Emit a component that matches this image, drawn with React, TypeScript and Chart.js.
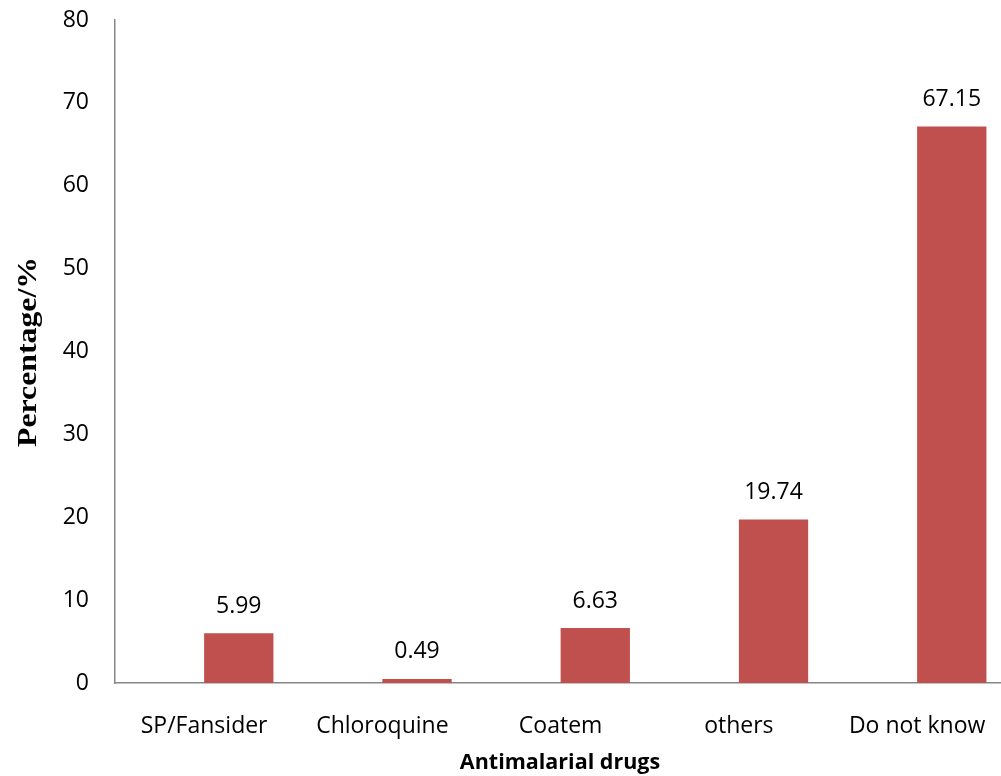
import React, { useEffect, useRef } from "react";
import { Chart, registerables } from "chart.js";

Chart.register(...registerables);

const categories = ["SP/Fansider", "Chloroquine", "Coatem", "others", "Do not know"];
const spacerValues: (number | null)[] = [null, null, null, null, null];
const percentValues = [5.99, 0.49, 6.63, 19.74, 67.15];
const valueLabels = ["5.99", "0.49", "6.63", "19.74", "67.15"];
const yTickMin = 0;
const yTickMax = 80;
const yTickStep = 10;
const xTitle = "Antimalarial drugs";
const yTitle = "Percentage/%";

const CANVAS_W = 1010;
const CANVAS_H = 776;

const labelsPlugin = {
  id: "customLabels",
  afterDatasetsDraw(chart: any) {
    const ctx = chart.ctx;
    const meta = chart.getDatasetMeta(1);
    ctx.save();
    ctx.font = '23px "Open Sans"';
    ctx.fillStyle = "#000";
    ctx.textAlign = "center";
    ctx.textBaseline = "middle";
    meta.data.forEach((bar: any, i: number) => {
      ctx.fillText(valueLabels[i], bar.x, bar.y - 27);
    });
    ctx.restore();
  },
  afterDraw(chart: any) {
    const ctx = chart.ctx;
    ctx.save();
    ctx.fillStyle = "#000";
    ctx.textAlign = "center";
    ctx.textBaseline = "middle";
    ctx.font = 'bold 21.5px "Open Sans"';
    ctx.fillText(xTitle, 560, 763);
    ctx.translate(29, 352);
    ctx.rotate(-Math.PI / 2);
    ctx.font = 'bold 27px "Liberation Serif"';
    const w = ctx.measureText(yTitle).width;
    ctx.scale(190 / w, 1);
    ctx.fillText(yTitle, 0, 0);
    ctx.restore();
  },
};

export default function App() {
  const ref = useRef<HTMLCanvasElement | null>(null);
  useEffect(() => {
    if (!ref.current) return;
    const chart = new Chart(ref.current, {
      type: "bar",
      data: {
        labels: categories,
        datasets: [
          { data: spacerValues, backgroundColor: "rgba(0,0,0,0)" },
          { data: percentValues, backgroundColor: "#C0504D" },
        ],
      },
      options: {
        responsive: false,
        animation: false,
        devicePixelRatio: 1,
        layout: { padding: { top: 20, right: 3.75, left: 0, bottom: 0 } },
        datasets: { bar: { categoryPercentage: 0.7776, barPercentage: 1 } },
        plugins: { legend: { display: false }, tooltip: { enabled: false } },
        scales: {
          x: {
            grid: { display: false, drawTicks: false },
            border: { color: "#868686", width: 1.5 },
            ticks: { color: "#000", font: { family: "Open Sans", size: 23 }, padding: 30, maxRotation: 0 },
            afterFit: (s: any) => { s.height = 93; s.paddingLeft = 0; s.paddingRight = 0; },
          },
          y: {
            min: yTickMin,
            max: yTickMax,
            grid: { display: false, drawTicks: false },
            border: { color: "#868686", width: 1.5 },
            ticks: { stepSize: yTickStep, color: "#000", font: { family: "Open Sans", size: 23 }, padding: 26 },
            afterFit: (s: any) => { s.width = 115; s.paddingTop = 0; s.paddingBottom = 0; },
          },
        },
      },
      plugins: [labelsPlugin],
    });
    return () => chart.destroy();
  }, []);
  return (
    <div style={{ position: "fixed", left: 0, top: 0, width: 1001, height: 776, overflow: "hidden", background: "#fff" }}>
      <canvas ref={ref} width={CANVAS_W} height={CANVAS_H} style={{ width: CANVAS_W, height: CANVAS_H, display: "block" }} />
    </div>
  );
}
